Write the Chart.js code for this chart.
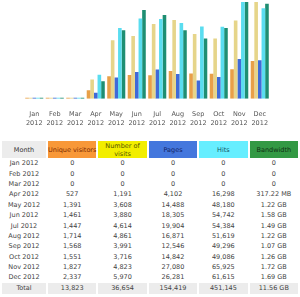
<!DOCTYPE html>
<html>
<head>
<meta charset="utf-8">
<script src="https://cdn.jsdelivr.net/npm/chart.js@4"></script>
<style>
  body { margin: 0; background: #fff; font-family: "DejaVu Sans", Verdana, sans-serif; }
  #chartBox { position: absolute; left: 0; top: 0; width: 300px; height: 136px; }
  table.stats {
    position: absolute; left: 0; top: 141px; width: 300px;
    border-collapse: separate; border-spacing: 2px 0;
    font-size: 6.5px; color: #444; text-align: center; table-layout: fixed;
  }
  table.stats th { font-weight: normal; height: 17px; padding: 0; line-height: 8px; white-space: nowrap; }
  table.stats td { height: 10.4px; padding: 0; line-height: 10px; white-space: nowrap; }
  table.stats tr.total td { background: #ececec; height: 11px; }
</style>
</head>
<body>
<div id="chartBox"><canvas id="monthly" width="300" height="136"></canvas></div>
<table class="stats" id="stats"></table>
<script>
// month labels
var months = ['Jan', 'Feb', 'Mar', 'Apr', 'May', 'Jun', 'Jul', 'Aug', 'Sep', 'Oct', 'Nov', 'Dec'];
var year = '2012';

// monthly figures
var uniqueVisitors = [0, 0, 0, 527, 1391, 1461, 1447, 1714, 1568, 1551, 1827, 2337];
var visits = [0, 0, 0, 1191, 3608, 3880, 4614, 4861, 3991, 3716, 4823, 5970];
var pages = [0, 0, 0, 4102, 14488, 18305, 19904, 16871, 12546, 14842, 27080, 26281];
var hits = [0, 0, 0, 16298, 48180, 54742, 54384, 51619, 49296, 49086, 65925, 61615];
var bandwidthGB = [0, 0, 0, 0.3098, 1.22, 1.58, 1.49, 1.22, 1.07, 1.26, 1.72, 1.69];
var bandwidthText = ['0', '0', '0', '317.22 MB', '1.22 GB', '1.58 GB', '1.49 GB', '1.22 GB', '1.07 GB', '1.26 GB', '1.72 GB', '1.69 GB'];
var totals = ['13,823', '36,654', '154,419', '451,145', '11.56 GB'];

function fmt(n) { return n.toLocaleString('en-US'); }

var ctx = document.getElementById('monthly').getContext('2d');
new Chart(ctx, {
  type: 'bar',
  data: {
    labels: months.map(function (m) { return [m, year]; }),
    datasets: [
      { label: 'Unique visitors', data: uniqueVisitors, backgroundColor: '#e8a048', yAxisID: 'yv' },
      { label: 'Number of visits', data: visits, backgroundColor: '#e6d58a', yAxisID: 'yv' },
      { label: 'Pages', data: pages, backgroundColor: '#3f6ad8', yAxisID: 'yh' },
      { label: 'Hits', data: hits, backgroundColor: '#5addf0', yAxisID: 'yh' },
      { label: 'Bandwidth', data: bandwidthGB, backgroundColor: '#1e8e72', yAxisID: 'yb' }
    ]
  },
  options: {
    responsive: false,
    animation: false,
    devicePixelRatio: 1,
    layout: { padding: { left: 24, right: 30, top: 2, bottom: 5 } },
    datasets: { bar: { categoryPercentage: 0.88, barPercentage: 1, minBarLength: 1 } },
    plugins: { legend: { display: false }, tooltip: { enabled: false } },
    scales: {
      x: {
        grid: { display: false },
        border: { display: false },
        ticks: {
          color: '#555', padding: 3, maxRotation: 0, autoSkip: false,
          font: { family: 'DejaVu Sans', size: 6.5, lineHeight: 1.4 }
        }
      },
      yv: { display: false, min: 0, max: Math.max.apply(null, visits) },
      yh: { display: false, min: 0, max: Math.max.apply(null, hits) },
      yb: { display: false, min: 0, max: Math.max.apply(null, bandwidthGB) }
    }
  }
});

// the table under the chart
var heads = [
  ['Month', '#ececec', '#333'],
  ['Unique visitors', '#f89838', '#7a2a00'],
  ['Number of<br>visits', '#f2ee00', '#555500'],
  ['Pages', '#4477dd', '#112266'],
  ['Hits', '#66eeff', '#115566'],
  ['Bandwidth', '#339944', '#0f2f12']
];
var html = '<colgroup><col style="width:44px"><col><col><col><col><col></colgroup><tr>';
heads.forEach(function (h) {
  html += '<th style="background:' + h[1] + ';color:' + h[2] + '">' + h[0] + '</th>';
});
html += '</tr>';
months.forEach(function (m, i) {
  html += '<tr><td>' + m + ' ' + year + '</td><td>' + fmt(uniqueVisitors[i]) + '</td><td>' + fmt(visits[i]) +
    '</td><td>' + fmt(pages[i]) + '</td><td>' + fmt(hits[i]) + '</td><td>' + bandwidthText[i] + '</td></tr>';
});
html += '<tr class="total"><td>Total</td><td>' + totals.join('</td><td>') + '</td></tr>';
document.getElementById('stats').innerHTML = html;
</script>
</body>
</html>
